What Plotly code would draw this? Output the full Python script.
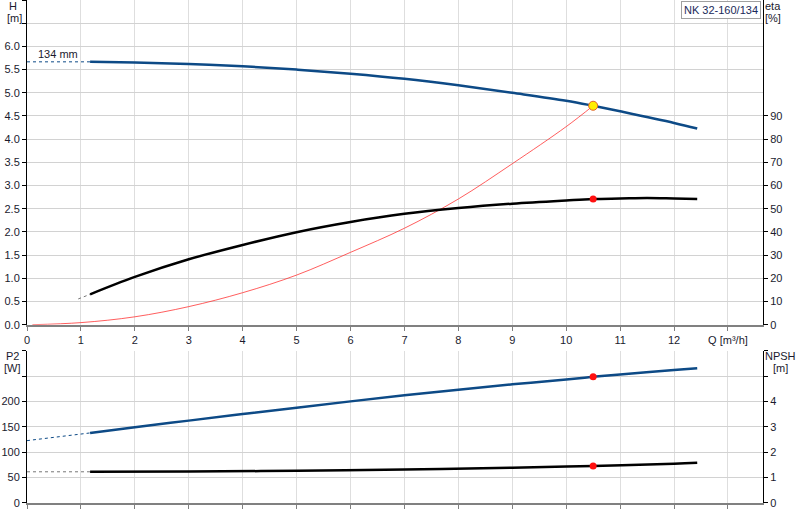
import plotly.graph_objects as go

# pump curve readings, NK 32-160/134
q_h = [1.17, 2, 3, 4, 5, 6, 7, 8, 9, 10, 10.5, 11, 12, 12.43]
head = [5.667, 5.65, 5.62, 5.57, 5.50, 5.41, 5.30, 5.16, 5.00, 4.83, 4.72, 4.60, 4.35, 4.23]
q_h_ext = [0, 1.17]
head_ext = [5.667, 5.667]

q_eta = [1.17, 2, 3, 4, 5, 6, 7, 8, 9, 10, 10.5, 11, 11.5, 12, 12.43]
eta = [13.1, 20.6, 28.2, 34.4, 39.9, 44.3, 47.8, 50.3, 52.2, 53.6, 54.2, 54.4, 54.6, 54.4, 54.2]
q_eta_ext = [0.95, 1.17]
eta_ext = [11.1, 13.1]

q_sys = [0.1, 1, 2, 3, 4, 5, 6, 7, 8, 9, 10, 10.5]
h_sys = [0.0, 0.045, 0.17, 0.39, 0.69, 1.07, 1.56, 2.08, 2.71, 3.47, 4.27, 4.72]

q_p2 = [1.17, 2, 3, 4, 5, 6, 7, 8, 9, 10, 10.5, 11, 12, 12.43]
p2 = [137.7, 149, 162, 175, 187.5, 200, 212, 223, 233.7, 243, 248.5, 253, 262, 265.6]
q_p2_ext = [0, 1.17]
p2_ext = [122.5, 137.7]

q_npsh = [1.17, 3, 5, 7, 9, 10.5, 12, 12.43]
npsh = [1.22, 1.23, 1.26, 1.31, 1.38, 1.45, 1.54, 1.58]
q_npsh_ext = [0, 1.17]
npsh_ext = [1.22, 1.22]

duty_q = 10.5
duty_h = 4.72
duty_eta = 54.2
duty_p2 = 248.5
duty_npsh = 1.45

x_ticks = list(range(0, 14))
x_labels = [str(v) for v in range(0, 13)] + ["Q [m³/h]"]
h_ticks = [i * 0.5 for i in range(15)]
h_labels = [f"{v:.1f}" for v in h_ticks[:13]] + ["", ""]
eta_ticks = list(range(0, 100, 10))
p2_ticks = [0, 50, 100, 150, 200, 250, 300]
p2_labels = ["0", "50", "100", "150", "200", "", ""]
npsh_ticks = [0, 1, 2, 3, 4, 5, 6]
npsh_labels = ["0", "1", "2", "3", "4", "", ""]

W, H = 800, 520
BLUE = "#0d4a86"
FONT = "Liberation Sans, Arial, sans-serif"
TXT = "#1a1a2e"


def px(x, y):
    return x / W, 1 - y / H


fig = go.Figure()

# top panel: head, efficiency, system curve
fig.add_trace(go.Scatter(x=q_sys, y=h_sys, mode="lines", line=dict(color="rgba(255,40,40,0.75)", width=1),
                         line_shape="spline", xaxis="x", yaxis="y"))
fig.add_trace(go.Scatter(x=q_h_ext, y=head_ext, mode="lines", line=dict(color=BLUE, width=1, dash="dot"),
                         xaxis="x", yaxis="y"))
fig.add_trace(go.Scatter(x=q_h, y=head, mode="lines", line=dict(color=BLUE, width=2.5),
                         line_shape="spline", xaxis="x", yaxis="y"))
fig.add_trace(go.Scatter(x=q_eta_ext, y=eta_ext, mode="lines", line=dict(color="#777777", width=1, dash="dot"),
                         xaxis="x", yaxis="y2"))
fig.add_trace(go.Scatter(x=q_eta, y=eta, mode="lines", line=dict(color="black", width=2.5),
                         line_shape="spline", xaxis="x", yaxis="y2"))
fig.add_trace(go.Scatter(x=[duty_q], y=[duty_eta], mode="markers",
                         marker=dict(color="#ff1010", size=7), xaxis="x", yaxis="y2"))
fig.add_trace(go.Scatter(x=[duty_q], y=[duty_h], mode="markers",
                         marker=dict(color="#ffee00", size=9, line=dict(color="#e0602a", width=1)),
                         xaxis="x", yaxis="y"))

# bottom panel: power and NPSH
fig.add_trace(go.Scatter(x=q_p2_ext, y=p2_ext, mode="lines", line=dict(color=BLUE, width=1, dash="dot"),
                         xaxis="x2", yaxis="y3"))
fig.add_trace(go.Scatter(x=q_p2, y=p2, mode="lines", line=dict(color=BLUE, width=2.5),
                         line_shape="spline", xaxis="x2", yaxis="y3"))
fig.add_trace(go.Scatter(x=q_npsh_ext, y=npsh_ext, mode="lines", line=dict(color="#777777", width=1, dash="dot"),
                         xaxis="x2", yaxis="y4"))
fig.add_trace(go.Scatter(x=q_npsh, y=npsh, mode="lines", line=dict(color="black", width=2.5),
                         line_shape="spline", xaxis="x2", yaxis="y4"))
fig.add_trace(go.Scatter(x=[duty_q], y=[duty_p2], mode="markers",
                         marker=dict(color="#ff1010", size=7), xaxis="x2", yaxis="y3"))
fig.add_trace(go.Scatter(x=[duty_q], y=[duty_npsh], mode="markers",
                         marker=dict(color="#ff1010", size=7), xaxis="x2", yaxis="y4"))

x_dom = [27 / W, 763 / W]
x_common = dict(range=[0, 13.65], domain=x_dom, tickmode="array", tickvals=x_ticks, automargin=False,
                showgrid=True, gridcolor="#dedede", gridwidth=1, zeroline=False,
                showline=True, linecolor="#808080", linewidth=2,
                ticks="outside", ticklen=4, tickcolor="#808080",
                tickfont=dict(size=11, color=TXT, family=FONT))
y_common = dict(zeroline=False, showline=True, linecolor="black", linewidth=1, automargin=False,
                ticks="outside", ticklen=4, tickcolor="black", tickmode="array",
                tickfont=dict(size=11, color=TXT, family=FONT))

fig.update_layout(
    width=W, height=H,
    margin=dict(l=0, r=0, t=0, b=0),
    paper_bgcolor="white", plot_bgcolor="white",
    showlegend=False,
    font=dict(family=FONT, size=11, color=TXT),
    xaxis=dict(x_common, anchor="y", ticktext=x_labels),
    xaxis2=dict(x_common, anchor="y3", showticklabels=False),
    yaxis=dict(y_common, domain=[1 - 324.7 / H, 1], range=[0, 7.0], tickvals=h_ticks, ticktext=h_labels,
               showgrid=True, gridcolor="#d2d2d2", anchor="x"),
    yaxis2=dict(y_common, range=[0, 140], overlaying="y", side="right", anchor="x",
                tickvals=eta_ticks, showgrid=False),
    yaxis3=dict(y_common, domain=[1 - 502.7 / H, 1 - 350.7 / H], range=[0, 300], tickvals=p2_ticks,
                ticktext=p2_labels, showgrid=True, gridcolor="#d2d2d2", anchor="x2"),
    yaxis4=dict(y_common, range=[0, 6], overlaying="y3", side="right", anchor="x2",
                tickvals=npsh_ticks, ticktext=npsh_labels, showgrid=False),
)

# axis titles and labels
labels = [("H", 13, 6), ("[m]", 14, 18), ("eta", 773, 6), ("[%]", 773, 18),
          ("P2", 12, 356), ("[W]", 12, 368), ("NPSH", 780, 356), ("[m]", 780, 368)]
for text, lx, ly in labels:
    ax, ay = px(lx, ly)
    fig.add_annotation(text=text, x=ax, y=ay, xref="paper", yref="paper", showarrow=False,
                       xanchor="center", yanchor="middle", font=dict(size=11, color=TXT, family=FONT))

fig.add_annotation(text="134 mm", x=0.58, y=5.83, xref="x", yref="y", showarrow=False,
                   font=dict(size=11, color=TXT, family=FONT))

bx, by = px(761, 1)
fig.add_annotation(text="NK 32-160/134", x=bx, y=by, xref="paper", yref="paper", showarrow=False,
                   xanchor="right", yanchor="top", bgcolor="white", bordercolor="#a0a0a0",
                   borderwidth=1, borderpad=2, font=dict(size=11, color="#1a2a5a", family=FONT))

# page body has a default 8px margin; drop it so the figure sits at the window corner
fig.write_html("out.html", config={"displayModeBar": False},
               post_script="document.body.style.margin='0';")
